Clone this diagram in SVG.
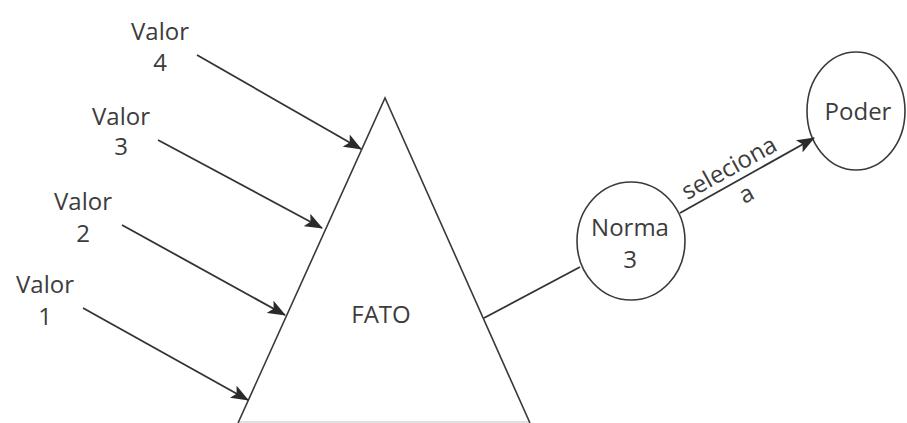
<svg xmlns="http://www.w3.org/2000/svg" width="907" height="423" viewBox="0 0 907 423">
  <style>
    .lbl { font-family: "Open Sans", "Liberation Sans", sans-serif; font-size: 24px; fill: #3c3c3c; text-anchor: middle; }
    .shape { fill: none; stroke: #3a3a3a; stroke-width: 1.6; }
    .base { fill: none; stroke: #d6d6d6; stroke-width: 1.5; }
    .edge { fill: none; stroke: #333333; stroke-width: 1.8; }
  </style>
  <defs>
    <marker id="arrow" markerUnits="userSpaceOnUse" markerWidth="18" markerHeight="14" viewBox="0 0 18 14" refX="17" refY="7" orient="auto">
      <path d="M0,0 L18,7 L0,14 L4,7 Z" fill="#2a2a2a"/>
    </marker>
  </defs>
  <rect width="907" height="423" fill="#ffffff"/>

  <g id="fato">
    <line class="base" x1="238" y1="422" x2="530" y2="422"/>
    <polyline class="shape" points="238,423 385,98 530,423"/>
    <text class="lbl" x="381" y="323">FATO</text>
  </g>

  <g id="valor4">
    <text class="lbl" x="160" y="40">Valor</text>
    <text class="lbl" x="160" y="71">4</text>
  </g>
  <g id="valor3">
    <text class="lbl" x="121" y="125">Valor</text>
    <text class="lbl" x="121" y="155">3</text>
  </g>
  <g id="valor2">
    <text class="lbl" x="83" y="210">Valor</text>
    <text class="lbl" x="83" y="242">2</text>
  </g>
  <g id="valor1">
    <text class="lbl" x="45" y="293">Valor</text>
    <text class="lbl" x="45" y="325">1</text>
  </g>

  <g id="norma">
    <ellipse class="shape" cx="631" cy="241" rx="54" ry="59"/>
    <text class="lbl" x="630" y="236">Norma</text>
    <text class="lbl" x="630" y="268">3</text>
  </g>

  <g id="poder">
    <ellipse class="shape" cx="856" cy="111" rx="49" ry="59"/>
    <text class="lbl" x="858" y="120">Poder</text>
  </g>

  <g id="connectors">
    <line class="edge" x1="197" y1="55" x2="361" y2="149" marker-end="url(#arrow)"/>
    <line class="edge" x1="158" y1="140" x2="322" y2="228" marker-end="url(#arrow)"/>
    <line class="edge" x1="122" y1="225" x2="285" y2="315" marker-end="url(#arrow)"/>
    <line class="edge" x1="83" y1="308" x2="248" y2="400" marker-end="url(#arrow)"/>
    <line class="edge" x1="484" y1="318" x2="580" y2="267"/>
    <line class="edge" x1="680" y1="213" x2="814" y2="138" marker-end="url(#arrow)"/>
    <text class="lbl" transform="translate(733,175) rotate(-29)" x="0" y="0">seleciona</text>
    <text class="lbl" transform="translate(750,201) rotate(-29)" x="0" y="0">a</text>
  </g>
</svg>
